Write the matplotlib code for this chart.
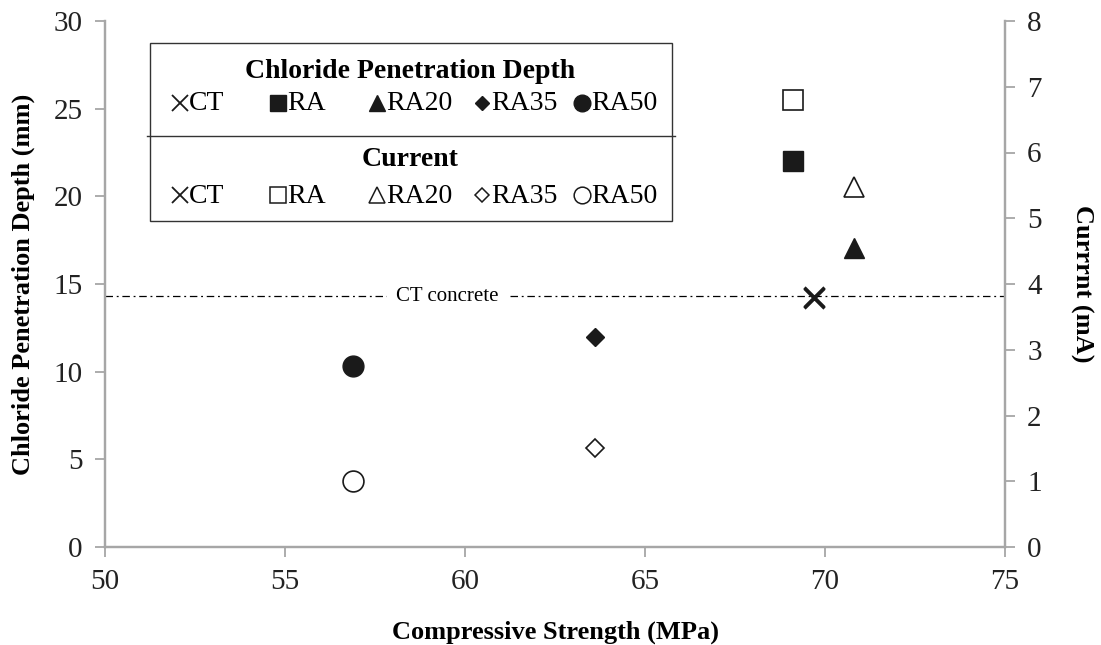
import numpy as np
import matplotlib.pyplot as plt
from matplotlib.patches import Rectangle
from matplotlib.lines import Line2D

plt.rcParams['font.family'] = ['Liberation Serif', 'DejaVu Serif']

# data
mixes = ['CT', 'RA', 'RA20', 'RA35', 'RA50']
strength = [69.7, 69.1, 70.8, 63.6, 56.9]        # MPa
depth = [14.2, 22.0, 17.05, 11.95, 10.35]        # mm
current = [3.8, 6.8, 5.48, 1.51, 1.0]            # mA
ct_depth = 14.3

markers = ['x', 's', '^', 'D', 'o']
sizes = [14, 14, 14, 9.5, 15]
grey = '#a6a6a6'
ink = '#1a1a1a'

fig = plt.figure(figsize=(11.01, 6.45), dpi=100)
W, H = 1101, 645
ax = fig.add_axes([105 / W, (645 - 547) / H, 900 / W, 526 / H])
ax2 = ax.twinx()

for m, s, x, d, c in zip(markers, sizes, strength, depth, current):
    if m == 'x':
        ax.plot(x, d, marker='x', ms=s, mew=2.3, color=ink, ls='none')
        ax2.plot(x, c, marker='x', ms=s, mew=2.3, color=ink, ls='none')
    else:
        ax.plot(x, d, marker=m, ms=s, color=ink, mec=ink, ls='none')
        ax2.plot(x, c, marker=m, ms=s, mfc='white', mec=ink, mew=1.2, ls='none')

ax.axhline(ct_depth, color='black', lw=0.9, ls=(0, (6, 3, 1.5, 3)))
ax.text(59.5, ct_depth, 'CT concrete', ha='center', va='center', fontsize=15,
        bbox=dict(facecolor='white', edgecolor='none', pad=6))

ax.set_xlim(50, 75)
ax.set_ylim(0, 30)
ax2.set_ylim(0, 8)
ax.set_xticks(np.arange(50, 76, 5))
ax.set_yticks(np.arange(0, 31, 5))
ax2.set_yticks(np.arange(0, 9, 1))

for a in (ax, ax2):
    a.spines['top'].set_visible(False)
    for sp in a.spines.values():
        sp.set_color(grey)
        sp.set_linewidth(1.6)
    a.tick_params(colors=grey, labelcolor='#222222', labelsize=21, width=1.3,
                  length=7, pad=9)

ax.set_xlabel('Compressive Strength (MPa)', fontsize=19, fontweight='bold')
ax.xaxis.set_label_coords(0.5, -0.163)
ax.xaxis.label.set_va('center')

ax.set_ylabel('Chloride Penetration Depth (mm)', fontsize=19, fontweight='bold',
              rotation_mode='default', va='center', ha='center')
ax.yaxis.set_label_coords(-0.091, 0.5)
ax2.set_ylabel('Currrnt (mA)', fontsize=19, fontweight='bold', rotation=270,
               rotation_mode='default', va='center', ha='center')
ax2.yaxis.set_label_coords(1.0856, 0.5)

# custom legend box, drawn in figure pixels
def fx(px):
    return px / W

def fy(py):
    return (H - py) / H

fig.add_artist(Rectangle((fx(150), fy(221)), fx(672) - fx(150), fy(43) - fy(221),
                         transform=fig.transFigure, fill=False, ec='#333333', lw=1.0))
fig.add_artist(Line2D([fx(147), fx(675)], [fy(136), fy(136)], transform=fig.transFigure,
                      color='#333333', lw=1.0))
fig.text(fx(410), fy(71), 'Chloride Penetration Depth', ha='center', va='center',
         fontsize=20, fontweight='bold')
fig.text(fx(410), fy(160), 'Current', ha='center', va='center', fontsize=20,
         fontweight='bold')

item_x = [180, 278, 377, 482, 582]
for row_y, filled in ((103, True), (195, False)):
    for m, lab, px in zip(markers, mixes, item_x):
        ms = 7.5 if m == 'D' else 12
        kw = dict(color=ink, mec=ink)
        if m == 'x':
            kw.update(mew=1.3, ms=12)
        elif not filled:
            kw.update(mfc='white', mew=1.1, ms=ms)
        else:
            kw.update(ms=ms)
        fig.add_artist(Line2D([fx(px)], [fy(row_y)], marker=m, ls='none',
                              transform=fig.transFigure, **kw))
        fig.text(fx(px + 9), fy(row_y + 1), lab, ha='left', va='center', fontsize=20)

fig.savefig('out.png', dpi=100)
